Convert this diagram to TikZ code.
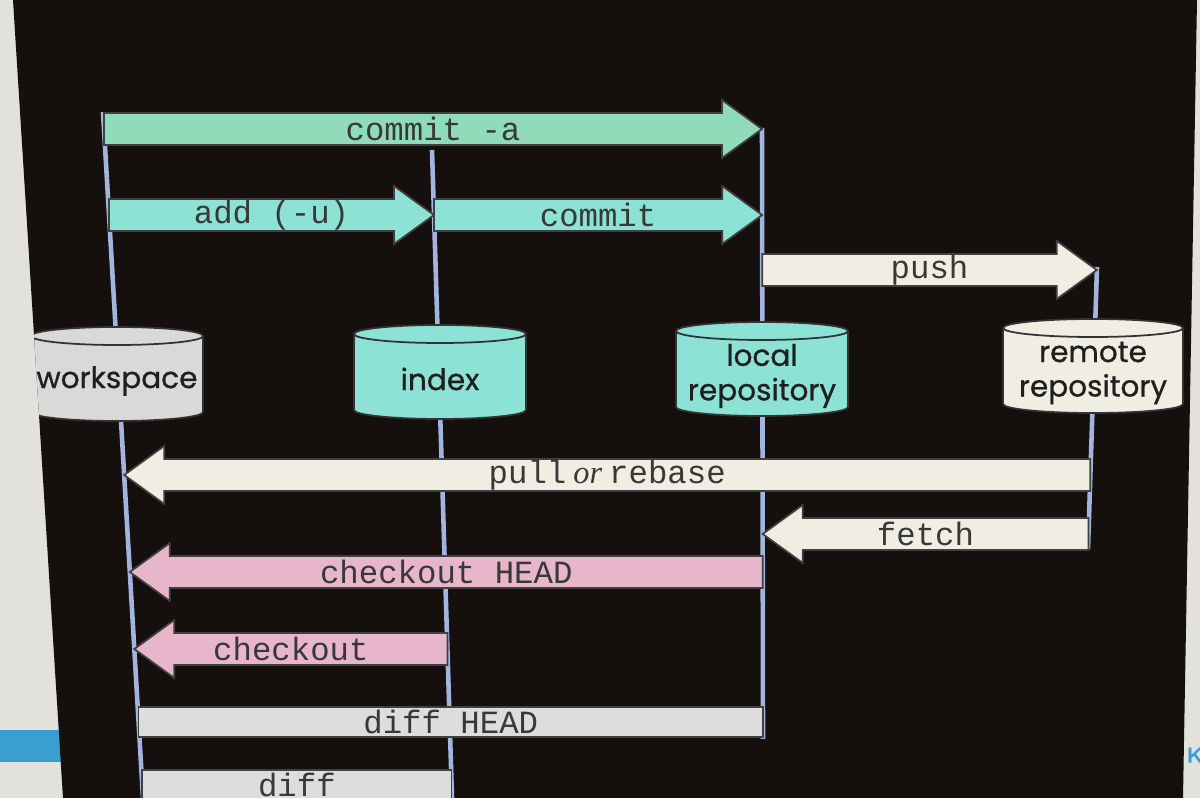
\documentclass[tikz,border=0pt]{standalone}
\usepackage{fontspec}
\usetikzlibrary{calc}
\setmonofont{Liberation Mono}
\newfontfamily\cylfont[FakeBold=0.8]{Poppins}
\newfontfamily\orfont{Liberation Serif}

\definecolor{screen}{HTML}{150F0D}
\definecolor{paper}{HTML}{E3E1DB}
\definecolor{lifeline}{HTML}{A3B5DF}
\definecolor{mint}{HTML}{90DCBA}
\definecolor{aqua}{HTML}{8BE2D5}
\definecolor{cream}{HTML}{F0EDE2}
\definecolor{pinky}{HTML}{E7B6CB}
\definecolor{greybox}{HTML}{DDDDDD}
\definecolor{wsgrey}{HTML}{D9D9D9}
\definecolor{slideblue}{HTML}{3A9FD0}

% point on a lifeline at height y
\newcommand{\onlife}[3]{%
  \coordinate (hl) at (0,#3); \coordinate (hr) at (1200,#3);
  \coordinate (#1) at (intersection of #2T--#2B and hl--hr);}

% fat arrow: tail, tip, colour, name, label
\newcommand{\fatarrow}[5]{%
  \coordinate (hb) at ($(#2)!0.4cm!(#1)$);
  \filldraw[bigarrow, fill=#3] ($(#1)+(0,16)$) -- ($(hb)+(0,16)$) -- ($(hb)+(0,29)$) -- (#2)
    -- ($(hb)+(0,-29)$) -- ($(hb)+(0,-16)$) -- ($(#1)+(0,-16)$) -- cycle;
  \node[cmd] (#4) at ($(#1)!0.5!(#2)$) {#5};}

% flat bar: left, right, name, label
\newcommand{\diffbar}[4]{%
  \filldraw[bigarrow, fill=greybox] ($(#1)+(0,15)$) rectangle ($(#2)+(0,-15)$);
  \node[cmd] (#3) at ($(#1)!0.5!(#2)$) {#4};}

% repository cylinder: name, x, y, half width, colour, text
\newcommand{\repocyl}[6]{%
  \filldraw[cylline, fill=#5] (#2,#3) ++(-#4,38) -- ++(0,-76)
    arc[start angle=180, end angle=360, x radius={#4*0.01cm}, y radius=0.09cm] -- ++(0,76)
    arc[start angle=0, end angle=180, x radius={#4*0.01cm}, y radius=0.09cm] -- cycle;
  \draw[cylline] (#2,#3) ++(-#4,38) arc[start angle=180, end angle=360, x radius={#4*0.01cm}, y radius=0.09cm];
  \node[cyltext] (#1) at ($(#2,#3)+(0,-7)$) {#6};}

\begin{document}
\begin{tikzpicture}[x=0.01cm, y=0.01cm,
  bigarrow/.style={draw=black!75, line width=0.5pt},
  cmd/.style={font=\ttfamily\fontsize{9.2}{11}\selectfont, text=black!78, inner sep=0pt},
  cyltext/.style={align=center, font=\cylfont\fontsize{8.4}{9.8}\selectfont, text=black!88},
  cylline/.style={draw=black!80, line width=0.5pt},
  life/.style={lifeline, line width=1.3pt}]

\useasboundingbox (0,0) rectangle (1200,-798);
\clip (0,0) rectangle (1200,-798);

% photo surround and screen
\fill[paper] (0,0) rectangle (1200,-798);
\fill[slideblue] (0,-730) rectangle (80,-762);
\fill[screen] (13,0) -- (1197,0) -- (1183,-798) -- (63,-798) -- cycle;
\node[anchor=west, text=slideblue, font=\sffamily\bfseries\fontsize{6.4}{7}\selectfont, inner sep=0pt] (kmark) at (1186,-756) {K};

\begin{scope}
\clip (13,0) -- (1197,0) -- (1183,-798) -- (63,-798) -- cycle;

% lifelines
\coordinate (wsT) at (103,-112);  \coordinate (wsB) at (143,-798);
\coordinate (ixT) at (432,-150);  \coordinate (ixB) at (452,-798);
\coordinate (lrT) at (762,-128);  \coordinate (lrB) at (763,-739);
\coordinate (rrT) at (1097,-267); \coordinate (rrB) at (1088,-549);
\draw[life] (wsT) -- (wsB);
\draw[life] (ixT) -- (ixB);
\draw[life] (lrT) -- (lrB);
\draw[life] (rrT) -- (rrB);

% repositories
\repocyl{workspace}{117}{-374}{86}{wsgrey}{workspace}
\repocyl{index}{440}{-372}{86}{aqua}{index}
\repocyl{local}{762}{-369}{86}{aqua}{local\\repository}
\repocyl{remote}{1093}{-366}{90}{cream}{remote\\repository}

% towards the remote
\onlife{ca1}{ws}{-129} \onlife{ca2}{lr}{-129}
\fatarrow{ca1}{ca2}{mint}{commitall}{commit -a}
\onlife{ad1}{ws}{-215} \onlife{ad2}{ix}{-215}
\fatarrow{ad1}{ad2}{aqua}{add}{add (-u)}
\onlife{cm1}{ix}{-215} \onlife{cm2}{lr}{-215}
\fatarrow{cm1}{cm2}{aqua}{commit}{commit}
\onlife{pu1}{lr}{-270} \onlife{pu2}{rr}{-270}
\fatarrow{pu1}{pu2}{cream}{push}{push}

% back to the workspace
\onlife{pl1}{rr}{-475} \onlife{pl2}{ws}{-475}
\fatarrow{pl1}{pl2}{cream}{pull}{pull\hspace{2pt}{\orfont\itshape or}\hspace{2pt}rebase}
\onlife{fe1}{rr}{-534} \onlife{fe2}{lr}{-534}
\fatarrow{fe1}{fe2}{cream}{fetch}{fetch}
\onlife{ch1}{lr}{-572} \onlife{ch2}{ws}{-572}
\fatarrow{ch1}{ch2}{pinky}{cohead}{checkout HEAD}
\onlife{co1}{ix}{-649} \onlife{co2}{ws}{-649}
\fatarrow{co1}{co2}{pinky}{checkout}{checkout}

% diffs
\onlife{dh1}{ws}{-722} \onlife{dh2}{lr}{-722}
\diffbar{dh1}{dh2}{diffhead}{diff HEAD}
\onlife{df1}{ws}{-785} \onlife{df2}{ix}{-785}
\diffbar{df1}{df2}{diff}{diff}
\end{scope}
\end{tikzpicture}
\end{document}
